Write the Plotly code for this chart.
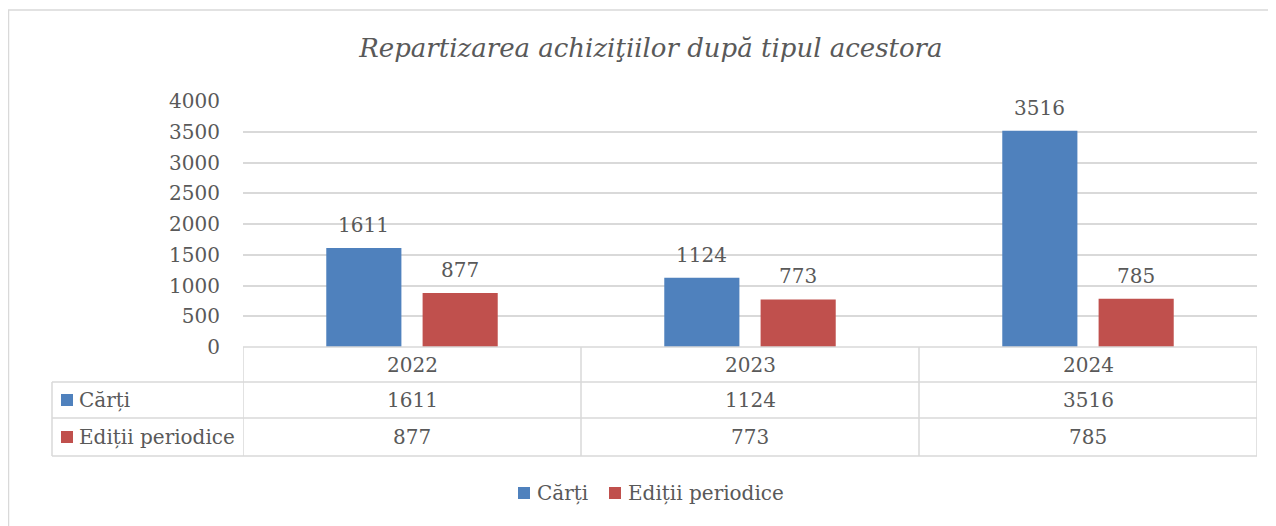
import plotly.graph_objects as go

years = ["2022", "2023", "2024"]
series_names = ["Cărți", "Ediții periodice"]
carti = [1611, 1124, 3516]
editii = [877, 773, 785]
colors = ["#4f81bd", "#c0504d"]
title_text = "Repartizarea achiziţiilor după tipul acestora"

# page body has an 8px margin; screen coordinates below are in reference pixels
OFF = 8
SW, SH = 1276, 526
W, H = SW - OFF, SH - OFF
L, R, T, B = 243, 1257, 101, 347
FONT = "DejaVu Serif"
TXT = "#595959"
GRID = "#d9d9d9"
BARGAP = 0.43
GROUPGAP = 0.22


def fx(px):
    return (px - L) / (R - L)


def fy(py):
    return (B - py) / (B - T)


fig = go.Figure()
for name, vals, col in zip(series_names, [carti, editii], colors):
    fig.add_trace(go.Bar(
        x=years, y=vals, name=name, marker_color=col, marker_line_width=0,
        showlegend=False,
    ))

shapes = []
annotations = []

# data labels above bars
cat_px = (R - L) / len(years)
slot_px = cat_px * (1 - BARGAP) / 2
for s, vals in enumerate([carti, editii]):
    for i, v in enumerate(vals):
        annotations.append(dict(x=i, xref="x", y=v, yref="y", text=str(v),
                                showarrow=False, xanchor="center", yanchor="middle",
                                xshift=(s - 0.5) * slot_px, yshift=23,
                                font=dict(family=FONT, size=20, color=TXT)))

# outer chart border
shapes.append(dict(type="rect", xref="paper", yref="paper",
                   x0=fx(8.5), x1=fx(1290), y0=fy(10), y1=fy(540),
                   line=dict(color=GRID, width=1.5), layer="below"))

row_y = [347, 382, 418, 456]
shapes.append(dict(type="line", xref="paper", yref="paper", x0=fx(243), x1=fx(1257),
                   y0=fy(row_y[0]), y1=fy(row_y[0]), line=dict(color=GRID, width=1.5)))
for yy in row_y[1:]:
    shapes.append(dict(type="line", xref="paper", yref="paper", x0=fx(52), x1=fx(1257),
                       y0=fy(yy), y1=fy(yy), line=dict(color=GRID, width=1.5)))
for i in range(len(years) + 1):
    shapes.append(dict(type="line", xref="x", yref="paper", x0=i - 0.5, x1=i - 0.5,
                       y0=fy(row_y[0]), y1=fy(row_y[-1]), line=dict(color=GRID, width=1.5)))
shapes.append(dict(type="line", xref="paper", yref="paper", x0=fx(52), x1=fx(52),
                   y0=fy(row_y[1]), y1=fy(row_y[-1]), line=dict(color=GRID, width=1.5)))

for i, yr in enumerate(years):
    annotations.append(dict(x=i, xref="x", y=fy((row_y[0] + row_y[1]) / 2), yref="paper",
                            text=yr, showarrow=False, xanchor="center", yanchor="middle",
                            font=dict(family=FONT, size=20, color=TXT)))
for r, (name, vals, col) in enumerate(zip(series_names, [carti, editii], colors)):
    yc = (row_y[r + 1] + row_y[r + 2]) / 2
    shapes.append(dict(type="rect", xref="paper", yref="paper",
                       x0=fx(61), x1=fx(73), y0=fy(yc - 6), y1=fy(yc + 6),
                       fillcolor=col, line=dict(width=0)))
    annotations.append(dict(x=fx(77), xref="paper", y=fy(yc), yref="paper", text=name,
                            showarrow=False, xanchor="left", yanchor="middle",
                            font=dict(family=FONT, size=20, color=TXT)))
    for i, v in enumerate(vals):
        annotations.append(dict(x=i, xref="x", y=fy(yc), yref="paper", text=str(v),
                                showarrow=False, xanchor="center", yanchor="middle",
                                font=dict(family=FONT, size=20, color=TXT)))

# legend (bottom)
leg_sq_x = [518, 609]
leg_txt_x = [535, 626]
leg_y = 493
for name, col, sx, tx in zip(series_names, colors, leg_sq_x, leg_txt_x):
    shapes.append(dict(type="rect", xref="paper", yref="paper",
                       x0=fx(sx), x1=fx(sx + 12), y0=fy(leg_y - 6), y1=fy(leg_y + 6),
                       fillcolor=col, line=dict(width=0)))
    annotations.append(dict(x=fx(tx), xref="paper", y=fy(leg_y), yref="paper", text=name,
                            showarrow=False, xanchor="left", yanchor="middle",
                            font=dict(family=FONT, size=20, color=TXT)))

fig.update_layout(
    width=W, height=H,
    margin=dict(l=L - OFF, r=SW - R, t=T - OFF, b=SH - B, pad=0),
    paper_bgcolor="white", plot_bgcolor="white",
    barmode="group", bargap=BARGAP, bargroupgap=GROUPGAP,
    title=dict(text=title_text, x=0.507, xanchor="center", y=1 - (48 - OFF) / H,
               yanchor="middle",
               font=dict(family=FONT, size=26, color=TXT, style="italic")),
    xaxis=dict(type="category", range=[-0.5, len(years) - 0.5], autorange=False,
               showticklabels=False, showgrid=False, zeroline=False,
               showline=False, ticks=""),
    yaxis=dict(range=[0, 4000], autorange=False, dtick=500, showgrid=True,
               gridcolor=GRID, gridwidth=1.5,
               zeroline=False, showline=False, ticks="", ticklabelstandoff=22,
               tickfont=dict(family=FONT, size=20, color=TXT)),
    showlegend=False,
    shapes=shapes, annotations=annotations,
)

fig.write_html("out.html")
